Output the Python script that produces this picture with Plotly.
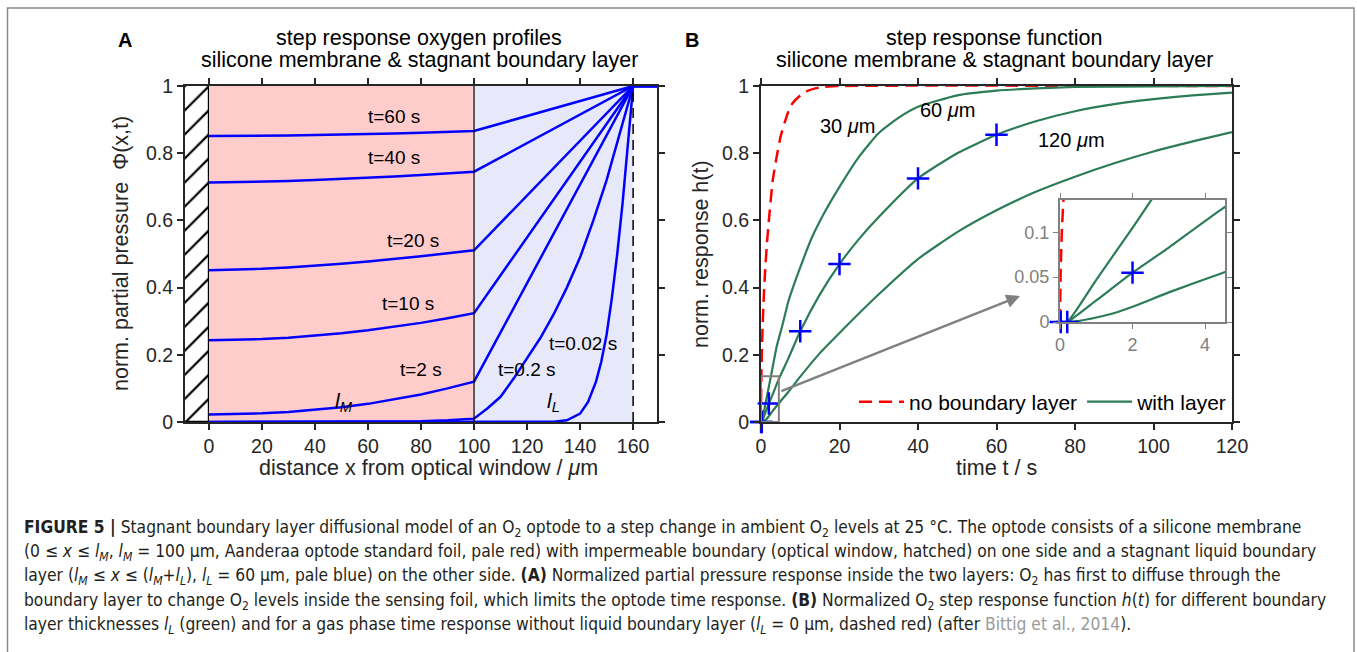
import plotly.graph_objects as go

W, H = 1357, 652
def px(x): return x / W
def py(y): return 1 - y / H

# ---------------- data: panel A (profiles) ----------------
window_x = [-9, 0]          # optical window (hatched)
l_M = 100                   # membrane thickness, um
l_L = 60                    # boundary layer thickness, um
x_max_A = 169

xm = [0, 10, 20, 30, 40, 50, 60, 70, 80, 90, 100]
x_lin = xm + [160, 169]
phi_t60 = [0.851, 0.851, 0.852, 0.853, 0.854, 0.855, 0.857, 0.859, 0.861, 0.863, 0.866, 1, 1]
phi_t40 = [0.713, 0.714, 0.715, 0.717, 0.720, 0.723, 0.727, 0.731, 0.735, 0.740, 0.745, 1, 1]
phi_t20 = [0.452, 0.453, 0.456, 0.460, 0.465, 0.471, 0.478, 0.485, 0.493, 0.502, 0.511, 1, 1]
phi_t10 = [0.243, 0.244, 0.247, 0.251, 0.257, 0.264, 0.273, 0.283, 0.295, 0.309, 0.324, 1, 1]
phi_t2 = [0.022, 0.023, 0.026, 0.030, 0.036, 0.044, 0.054, 0.067, 0.082, 0.100, 0.120, 1, 1]
x_t02 = [0, 40, 60, 70, 80, 90, 100, 105, 110, 115, 120, 125, 130, 135, 140, 145, 150, 155, 160, 169]
phi_t02 = [0, 0, 0.0005, 0.001, 0.002, 0.005, 0.010, 0.04, 0.075, 0.13, 0.19, 0.25, 0.32, 0.40, 0.49, 0.60, 0.72, 0.86, 1, 1]
x_t002 = [0, 100, 120, 130, 135, 140, 143, 146, 148, 150, 152, 154, 156, 158, 160, 169]
phi_t002 = [0, 0, 0, 0.001, 0.005, 0.025, 0.06, 0.12, 0.18, 0.26, 0.37, 0.50, 0.65, 0.82, 1, 1]

profiles = [
    (x_lin, phi_t60), (x_lin, phi_t40), (x_lin, phi_t20), (x_lin, phi_t10),
    (x_lin, phi_t2), (x_t02, phi_t02), (x_t002, phi_t002),
]
profile_labels = ["t=60 s", "t=40 s", "t=20 s", "t=10 s", "t=2 s", "t=0.2 s", "t=0.02 s"]
label_x = [70, 70, 77, 75, 80, 120, 141]
label_y = [0.908, 0.786, 0.54, 0.354, 0.155, 0.155, 0.235]

# ---------------- data: panel B (step response) ----------------
t_red = [0, 0.02, 0.05, 0.1, 0.2, 0.4, 0.7, 1, 1.5, 2, 3, 4, 5, 6, 7, 8, 10, 12, 15, 20, 120]
h_red = [0, 0.06, 0.10, 0.14, 0.2, 0.28, 0.37, 0.44, 0.53, 0.6, 0.72, 0.79, 0.85, 0.89, 0.925, 0.948, 0.972, 0.986, 0.996, 1, 1]

t_30 = [0, 0.2, 1, 2, 3, 4, 5.5, 7, 10, 13, 16, 20, 25, 30, 35, 40, 50, 60, 70, 80, 100, 120]
h_30 = [0, 0, 0.047, 0.105, 0.165, 0.225, 0.29, 0.36, 0.46, 0.55, 0.62, 0.70, 0.79, 0.86, 0.905, 0.938, 0.972, 0.986, 0.993, 0.997, 0.999, 1]
t_60 = [0, 0.2, 1, 2, 3, 4.5, 7, 10, 15, 20, 25, 30, 40, 50, 60, 70, 80, 90, 100, 110, 120]
h_60 = [0, 0, 0.024, 0.055, 0.083, 0.127, 0.19, 0.27, 0.38, 0.47, 0.545, 0.61, 0.725, 0.80, 0.855, 0.895, 0.925, 0.946, 0.961, 0.972, 0.98]
t_120 = [0, 0.2, 0.5, 1, 1.5, 2, 3, 4.5, 7, 10, 15, 20, 30, 40, 50, 60, 70, 80, 90, 100, 110, 120]
h_120 = [0, 0, 0.001, 0.005, 0.01, 0.017, 0.033, 0.055, 0.09, 0.135, 0.205, 0.265, 0.38, 0.485, 0.565, 0.63, 0.685, 0.73, 0.77, 0.805, 0.835, 0.863]

t_mark = [0.02, 0.2, 2, 10, 20, 40, 60]
h_mark = [0, 0, 0.055, 0.27, 0.47, 0.725, 0.855]

thick_labels = ["30 <i>μ</i>m", "60 <i>μ</i>m", "120 <i>μ</i>m"]
thick_lab_t = [22, 47.5, 79]
thick_lab_h = [0.88, 0.93, 0.84]

inset_t = [0, 4.55]
inset_h = [0, 0.136]

# ---------------- styles ----------------
FONT = "Liberation Sans, Arial, Helvetica, sans-serif"
CAP_FONT = "DejaVu Sans Condensed, Liberation Sans Narrow, sans-serif"
AX = "#262626"
BLUE = "#0000ff"
GREEN = "#2b7c57"
RED = "#ff0000"
GRAY = "#808080"
TICK = 19.5
TITLE = 21.5

fig = go.Figure()

# hatched optical window
fig.add_trace(go.Bar(
    x=[(window_x[0] + window_x[1]) / 2], y=[1], width=[window_x[1] - window_x[0]], base=[0],
    marker=dict(color="white", line=dict(color="black", width=1.2),
                pattern=dict(shape="/", fgcolor="black", bgcolor="white", fgopacity=1,
                             size=17, solidity=0.13)),
    xaxis="x", yaxis="y", showlegend=False, hoverinfo="skip"))

for xs, ys in profiles:
    fig.add_trace(go.Scatter(x=xs, y=ys, mode="lines", line=dict(color=BLUE, width=2.5),
                             xaxis="x", yaxis="y", showlegend=False, cliponaxis=False))

# panel B curves (main + inset)
for xa, ya, show in [("x2", "y2", True), ("x3", "y3", False)]:
    fig.add_trace(go.Scatter(x=t_red, y=h_red, mode="lines", name="no boundary layer",
                             line=dict(color=RED, width=2.5, dash="13px,7px", shape="spline", smoothing=0.5),
                             xaxis=xa, yaxis=ya, showlegend=show, legendgroup="red"))
    for i, (tt, hh) in enumerate([(t_30, h_30), (t_60, h_60), (t_120, h_120)]):
        fig.add_trace(go.Scatter(x=tt, y=hh, mode="lines", name="with layer",
                                 line=dict(color=GREEN, width=2.2, shape="spline", smoothing=0.5),
                                 xaxis=xa, yaxis=ya, showlegend=(show and i == 0), legendgroup="green"))
    fig.add_trace(go.Scatter(x=t_mark, y=h_mark, mode="markers",
                             marker=dict(symbol="cross-thin", size=16, line=dict(color=BLUE, width=2.5)),
                             xaxis=xa, yaxis=ya, showlegend=False, cliponaxis=False))

# ---------------- layout ----------------
dom_y = [py(422), py(86)]
common = dict(showgrid=False, zeroline=False, showline=True, linecolor=AX, linewidth=2,
              ticks="outside", ticklen=6, tickwidth=1.5, tickcolor=AX, mirror="ticks",
              tickfont=dict(size=TICK, color=AX, family=FONT))
inset_ax = dict(showgrid=False, zeroline=False, showline=True, linecolor=GRAY, linewidth=2,
                ticks="outside", ticklen=5, tickcolor=GRAY, mirror="ticks",
                tickfont=dict(size=18, color=GRAY, family=FONT))

fig.update_layout(
    width=W, height=H, margin=dict(l=0, r=0, t=0, b=0, autoexpand=False),
    paper_bgcolor="white", plot_bgcolor="rgba(0,0,0,0)",
    font=dict(family=FONT, color=AX),
    bargap=0,
    xaxis=dict(domain=[px(185), px(657)], range=[window_x[0], x_max_A], anchor="y",
               tickvals=[0, 20, 40, 60, 80, 100, 120, 140, 160], **common),
    yaxis=dict(domain=dom_y, range=[0, 1], anchor="x",
               tickvals=[0, 0.2, 0.4, 0.6, 0.8, 1], ticktext=["0", "0.2", "0.4", "0.6", "0.8", "1"], **common),
    xaxis2=dict(domain=[px(761), px(1232)], range=[0, 120], anchor="y2",
                tickvals=[0, 20, 40, 60, 80, 100, 120], **common),
    yaxis2=dict(domain=dom_y, range=[0, 1], anchor="x2",
                tickvals=[0, 0.2, 0.4, 0.6, 0.8, 1], ticktext=["0", "0.2", "0.4", "0.6", "0.8", "1"], **common),
    xaxis3=dict(domain=[px(1060), px(1225)], range=inset_t, anchor="y3", tickvals=[0, 2, 4], **inset_ax),
    yaxis3=dict(domain=[py(322), py(200)], range=inset_h, anchor="x3", tickvals=[0, 0.05, 0.1],
                ticktext=["0", "0.05", "0.1"], **inset_ax),
    legend=dict(orientation="h", x=px(1232), xanchor="right", y=py(402), yanchor="middle",
                bgcolor="rgba(0,0,0,0)", font=dict(size=21, color="black", family=FONT),
                itemwidth=45, traceorder="normal"),
)

shapes = [
    dict(type="rect", xref="x", yref="y", x0=0, x1=l_M, y0=0, y1=1, fillcolor="#ffcccc",
         line=dict(width=0), layer="below"),
    dict(type="rect", xref="x", yref="y", x0=l_M, x1=l_M + l_L, y0=0, y1=1, fillcolor="#e8e8fb",
         line=dict(width=0), layer="below"),
    dict(type="line", xref="x", yref="y", x0=l_M, x1=l_M, y0=0, y1=1, line=dict(color="black", width=1.2)),
    dict(type="line", xref="x", yref="y", x0=l_M + l_L, x1=l_M + l_L, y0=0, y1=1,
         line=dict(color="black", width=1.5, dash="10px,6px")),
    dict(type="rect", xref="x2", yref="y2", x0=inset_t[0], x1=inset_t[1], y0=inset_h[0], y1=inset_h[1],
         line=dict(color=GRAY, width=2)),
    dict(type="rect", xref="x3", yref="y3", x0=inset_t[0], x1=inset_t[1], y0=inset_h[0], y1=inset_h[1],
         fillcolor="white", line=dict(width=0), layer="below"),
    # figure frame
    dict(type="rect", xref="paper", yref="paper", x0=px(7.5), x1=px(1354), y0=-0.2, y1=py(8),
         line=dict(color="#8a8a8a", width=1.5)),
]
fig.update_layout(shapes=shapes)

ann = []
def text(x, y, s, size=18, xref="paper", yref="paper", color="black", xanchor="center", **kw):
    ann.append(dict(x=x, y=y, xref=xref, yref=yref, text=s, showarrow=False,
                    xanchor=xanchor, yanchor="middle",
                    font=dict(size=size, color=color, family=kw.pop("family", FONT)), **kw))

# titles
text(px(125), py(40), "<b>A</b>", size=20)
text(px(692), py(40), "<b>B</b>", size=20)
text(px(419), py(38), "step response oxygen profiles", size=TITLE)
text(px(419), py(60), "silicone membrane &amp; stagnant boundary layer", size=TITLE)
text(px(994), py(38), "step response function", size=TITLE)
text(px(994), py(60), "silicone membrane &amp; stagnant boundary layer", size=TITLE)
# axis titles
text(px(428), py(468), "distance x from optical window / <i>μ</i>m", size=TITLE, color=AX)
text(px(121), py(254), "norm. partial pressure  Φ(x,t)", size=TITLE, color=AX, textangle=-90)
text(px(996), py(468), "time t / s", size=TITLE, color=AX)
text(px(701), py(254), "norm. response h(t)", size=TITLE, color=AX, textangle=-90)

for s, xx, yy in zip(profile_labels, label_x, label_y):
    text(xx, yy, s, size=19, xref="x", yref="y")
text(51, 0.06, "<i>l</i><sub><i>M</i></sub>", size=21, xref="x", yref="y")
text(130, 0.06, "<i>l</i><sub><i>L</i></sub>", size=21, xref="x", yref="y")

for s, xx, yy in zip(thick_labels, thick_lab_t, thick_lab_h):
    text(xx, yy, s, size=20, xref="x2", yref="y2")

# zoom arrow
ann.append(dict(x=66, y=0.375, ax=4.8, ay=0.09, xref="x2", yref="y2", axref="x2", ayref="y2",
                text="", showarrow=True, arrowhead=2, arrowsize=1.1, arrowwidth=2.5, arrowcolor=GRAY))

# caption
cap = [
    "<b>FIGURE 5 |</b> Stagnant boundary layer diffusional model of an O<sub>2</sub> optode to a step change in ambient O<sub>2</sub> levels at 25 °C. The optode consists of a silicone membrane",
    "(0 ≤ <i>x</i> ≤ <i>l</i><sub><i>M</i></sub>, <i>l</i><sub><i>M</i></sub> = 100 μm, Aanderaa optode standard foil, pale red) with impermeable boundary (optical window, hatched) on one side and a stagnant liquid boundary",
    "layer (<i>l</i><sub><i>M</i></sub> ≤ <i>x</i> ≤ (<i>l</i><sub><i>M</i></sub>+<i>l</i><sub><i>L</i></sub>), <i>l</i><sub><i>L</i></sub> = 60 μm, pale blue) on the other side. <b>(A)</b> Normalized partial pressure response inside the two layers: O<sub>2</sub> has first to diffuse through the",
    "boundary layer to change O<sub>2</sub> levels inside the sensing foil, which limits the optode time response. <b>(B)</b> Normalized O<sub>2</sub> step response function <i>h</i>(<i>t</i>) for different boundary",
    "layer thicknesses <i>l</i><sub><i>L</i></sub> (green) and for a gas phase time response without liquid boundary layer (<i>l</i><sub><i>L</i></sub> = 0 μm, dashed red) (after <span style='color:#9a9a9a'>Bittig et al., 2014</span>).",
]
cap_y = [528, 552, 576, 601, 625]
for s, yy in zip(cap, cap_y):
    text(px(22), py(yy), s, size=17.3, color="#231f20", xanchor="left", family=CAP_FONT)

fig.update_layout(annotations=ann)

fig.write_html("out.html", config={"displayModeBar": False},
               post_script="document.body.style.margin='0';document.body.style.overflow='hidden';")
